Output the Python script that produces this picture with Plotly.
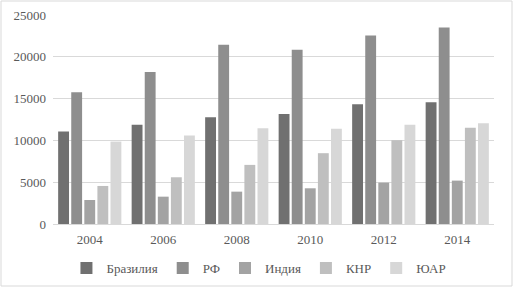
import plotly.graph_objects as go

years = ["2004", "2006", "2008", "2010", "2012", "2014"]
series_names = ["Бразилия", "РФ", "Индия", "КНР", "ЮАР"]
brazil = [11050, 11860, 12780, 13170, 14330, 14570]
rf = [15770, 18170, 21440, 20840, 22560, 23510]
india = [2870, 3270, 3870, 4270, 4950, 5190]
china = [4550, 5590, 7070, 8470, 10020, 11500]
sa = [9860, 10580, 11460, 11380, 11860, 12060]
values = [brazil, rf, india, china, sa]
colors = ["#707070", "#8e8e8e", "#a3a3a3", "#bfbfbf", "#d7d7d7"]
y_ticks = [0, 5000, 10000, 15000, 20000, 25000]
y_tick_text = ["0", "5000", "10000", "15000", "20000", "25000"]

fig = go.Figure()
for name, vals, col in zip(series_names, values, colors):
    fig.add_trace(go.Bar(name=name, x=years, y=vals, marker=dict(color=col, line=dict(width=0))))

W, H = 513, 287
ml, mr, mt, mb = 53, 19, 15, 63
pw, ph = W - ml - mr, H - mt - mb

font = dict(family="Liberation Serif, Times New Roman, serif", size=13, color="#595959")
fig.update_layout(
    width=W, height=H,
    margin=dict(l=ml, r=mr, t=mt, b=mb, autoexpand=False),
    paper_bgcolor="white", plot_bgcolor="white",
    barmode="group", bargap=0.11, bargroupgap=0.17,
    font=font,
    showlegend=True,
    legend=dict(orientation="h", x=0.467, xanchor="center", y=(224 - 268) / ph, yanchor="middle",
                font=font, itemwidth=30, tracegroupgap=0, traceorder="normal"),
    xaxis=dict(showgrid=False, showline=True, linecolor="#d9d9d9", linewidth=1, ticks="",
               tickfont=font, ticklabelstandoff=3, fixedrange=True, automargin=False),
    yaxis=dict(range=[0, 25000], tickvals=y_ticks, ticktext=y_tick_text, showgrid=True,
               gridcolor="#d9d9d9", gridwidth=1, zeroline=False, showline=False, ticks="",
               tickfont=font, ticklabelstandoff=6, fixedrange=True, automargin=False),
    shapes=[dict(type="rect", xref="paper", yref="paper",
                 x0=(-ml + 1) / pw, x1=1 + (mr - 1) / pw,
                 y0=-(mb - 1) / ph, y1=1 + (mt - 1) / ph,
                 line=dict(color="#d9d9d9", width=1), layer="below")],
)
fig.write_html("out.html", config={"displayModeBar": False},
               post_script="document.body.style.margin='0';document.body.style.overflow='hidden';")
